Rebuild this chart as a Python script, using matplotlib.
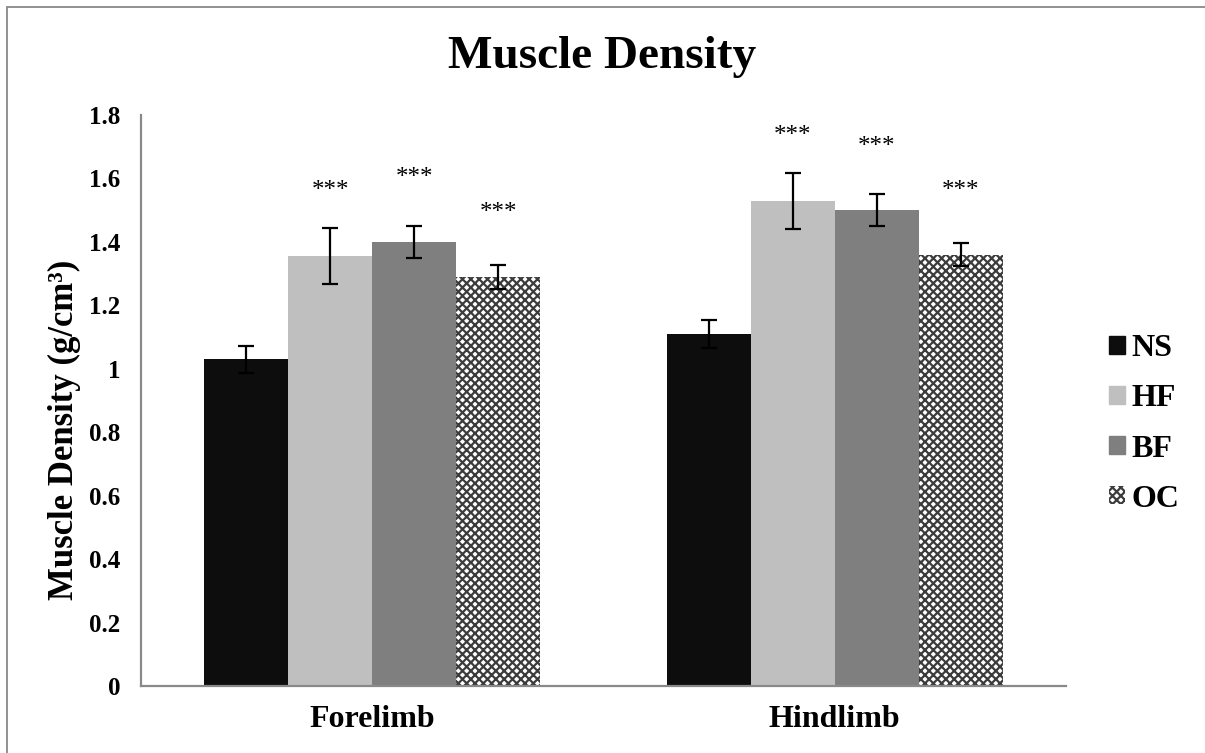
import matplotlib
matplotlib.use("Agg")
import matplotlib.pyplot as plt
from matplotlib.patches import Patch, Rectangle
import numpy as np

categories = ["Forelimb", "Hindlimb"]
groups = ["NS", "HF", "BF", "OC"]
ns_vals = [1.03, 1.11]
hf_vals = [1.355, 1.53]
bf_vals = [1.40, 1.50]
oc_vals = [1.29, 1.36]
ns_err = [0.042, 0.045]
hf_err = [0.088, 0.088]
bf_err = [0.05, 0.05]
oc_err = [0.037, 0.035]
hf_star = [1.56, 1.735]
bf_star = [1.60, 1.70]
oc_star = [1.49, 1.56]
star_label = "***"
yticks = [0, 0.2, 0.4, 0.6, 0.8, 1, 1.2, 1.4, 1.6, 1.8]
ytick_labels = ["0", "0.2", "0.4", "0.6", "0.8", "1", "1.2", "1.4", "1.6", "1.8"]

plt.rcParams['font.family'] = ['Liberation Serif', 'DejaVu Serif']
plt.rcParams['hatch.linewidth'] = 1.6

fig = plt.figure(figsize=(12.05, 7.53), dpi=100)
ax = fig.add_axes([141/1205, 1-686/753, (1066-141)/1205, (686-115)/753])

x = np.arange(len(categories))
w = 0.1814
offs = np.array([-1.5, -0.5, 0.5, 1.5]) * w
vals = [ns_vals, hf_vals, bf_vals, oc_vals]
errs = [ns_err, hf_err, bf_err, oc_err]
styles = [
    dict(color="#0d0d0d"),
    dict(color="#bfbfbf"),
    dict(color="#7f7f7f"),
    dict(facecolor="white", edgecolor="#3c3c3c", hatch="xxxx", linewidth=0),
]
for v, e, o, st in zip(vals, errs, offs, styles):
    ax.bar(x + o, v, w, zorder=2, **st)
    ax.errorbar(x + o, v, yerr=e, fmt="none", ecolor="black", elinewidth=1.6,
                capsize=6, capthick=1.6, zorder=3)

for stars, o in zip([hf_star, bf_star, oc_star], offs[1:]):
    for xi, s in zip(x, stars):
        ax.text(xi + o, s, star_label, ha="center", va="center", fontsize=18)

ax.set_xlim(-0.5, 1.5)
ax.set_ylim(0, 1.8)
ax.set_yticks(yticks)
ax.set_yticklabels(ytick_labels, fontsize=18, fontweight="bold")
ax.set_xticks(x)
ax.set_xticklabels(categories, fontsize=23, fontweight="bold")
ax.tick_params(axis="y", length=0, pad=15)
ax.tick_params(axis="x", length=0, pad=14)
for sp in ["top", "right"]:
    ax.spines[sp].set_visible(False)
for sp in ["left", "bottom"]:
    ax.spines[sp].set_color("#898989")
    ax.spines[sp].set_linewidth(1.6)
ax.set_ylabel("Muscle Density (g/cm\u00b3)", fontsize=25, fontweight="bold")
ax.yaxis.label.set_va("center")
ax.yaxis.set_label_coords(64/1205, 1-430/753, transform=fig.transFigure)

fig.text(0.5, 1-57/753, "Muscle Density", ha="center", va="center", fontsize=34, fontweight="bold")

handles = [Patch(**st) for st in styles]
fig.legend(handles, groups, loc="center left", bbox_to_anchor=(1093/1205, 1-424/753),
           frameon=False, handlelength=0.5, handleheight=0.5, handletextpad=0.19,
           labelspacing=0.66, borderpad=0, prop=dict(size=23, weight="bold"))

fig.patches.append(Rectangle((7/1205, -0.1), 1.2, 1-7/753+0.1, transform=fig.transFigure,
                             fill=False, edgecolor="#898989", linewidth=1.3))
fig.savefig("out.png", dpi=100)
